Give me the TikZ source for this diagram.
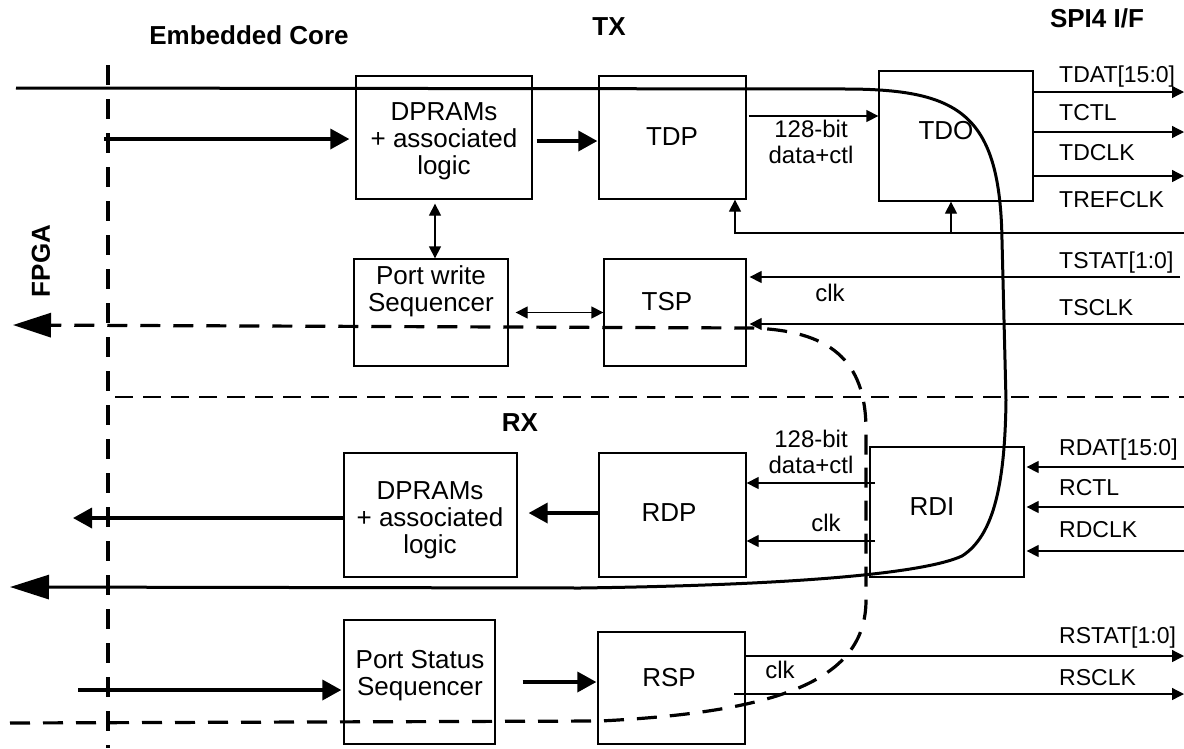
\documentclass[tikz,border=0pt]{standalone}
\usepackage{fontspec}
\setmainfont{Liberation Sans}
\usetikzlibrary{arrows.meta}
\newcommand\myfs{\fontsize{26}{27}\selectfont}
\newcommand\mysm{\fontsize{24}{26}\selectfont}
\newcommand\mylb{\fontsize{23}{26}\selectfont}
\newcommand\myhd{\fontsize{26}{28}\selectfont\bfseries}
\begin{document}
\begin{tikzpicture}[x=1pt,y=-1pt,
  box/.style={draw, line width=1.3pt, inner sep=0pt},
  txt/.style={font=\myfs, align=center, inner sep=0pt},
  stxt/.style={font=\mysm, align=center, inner sep=0pt},
  lbl/.style={font=\mylb, anchor=base west, inner sep=0pt},
  hd/.style={font=\myhd, inner sep=0pt},
  tarrow/.style={line width=1.3pt, -{Triangle[length=12pt,width=12pt]}},
  tbi/.style={line width=1.3pt, {Triangle[length=12pt,width=12pt]}-{Triangle[length=12pt,width=12pt]}},
  thk/.style={line width=3.5pt, -{Triangle[length=19pt,width=20pt]}},
  bigline/.style={line width=3pt, -{Triangle[length=39pt,width=24pt]}},
  bigdash/.style={line width=3.2pt, dash pattern=on 20pt off 13pt, -{Triangle[length=38pt,width=24pt]}},
  vdash/.style={line width=3.2pt, dash pattern=on 20pt off 14pt},
  hdash/.style={line width=1.3pt, dash pattern=on 18pt off 10pt}
]
\useasboundingbox (0,0) rectangle (1184,748);

% headings
\node[hd] (hcore) at (249,35) {Embedded Core};
\node[hd] (htx) at (609,27) {TX};
\node[hd] (hspi) at (1097,18) {SPI4 I/F};
\node[hd] (hrx) at (520,423) {RX};
\node[hd, rotate=90] (hfpga) at (41,261) {FPGA};

% boundaries
\coordinate (vtop) at (108,65);
\coordinate (vbot) at (108,748);
\draw[vdash] (vtop) -- (vbot);
\coordinate (hl) at (115,397);
\coordinate (hr) at (1184,397);
\draw[hdash] (hl) -- (hr);

% boxes
\node[box, minimum width=176pt, minimum height=123pt] (dpt) at (444,137.5) {};
\node[txt] (dptt) at (444,141) {DPRAMs\\+ associated\\logic};
\node[box, minimum width=147pt, minimum height=123pt] (tdp) at (672.5,137.5) {};
\node[txt] (tdpt) at (672,137) {TDP};
\node[box, minimum width=154pt, minimum height=130pt] (tdo) at (956,136) {};
\node[txt] (tdot) at (946,131) {TDO};
\node[box, minimum width=154pt, minimum height=107pt] (pws) at (431,312.5) {};
\node[txt] (pwst) at (431,291) {Port write\\Sequencer};
\node[box, minimum width=142pt, minimum height=107pt] (tsp) at (675,312.5) {};
\node[txt] (tspt) at (667,302) {TSP};

\node[box, minimum width=173pt, minimum height=124pt] (rdpr) at (430.5,515) {};
\node[txt] (rdprt) at (430,520) {DPRAMs\\+ associated\\logic};
\node[box, minimum width=147pt, minimum height=124pt] (rdp) at (672.5,515) {};
\node[txt] (rdpt) at (669,513) {RDP};
\node[box, minimum width=154pt, minimum height=130pt] (rdi) at (947,512) {};
\node[txt] (rdit) at (932,507) {RDI};
\node[box, minimum width=151pt, minimum height=124pt] (pss) at (419.5,682) {};
\node[txt] (psst) at (420,676) {Port Status\\Sequencer};
\node[box, minimum width=147pt, minimum height=112pt] (rsp) at (671.5,688) {};
\node[txt] (rspt) at (669,678) {RSP};

% small labels
\node[stxt] (l128a) at (811,142) {128-bit\\data+ctl};
\node[stxt] (lclka) at (830,293) {clk};
\node[stxt] (l128b) at (811,452) {128-bit\\data+ctl};
\node[stxt] (lclkb) at (826,523) {clk};
\node[stxt] (lclkc) at (780,670) {clk};

\node[lbl] (ltdat) at (1059,82) {TDAT[15:0]};
\node[lbl] (ltctl) at (1059,120) {TCTL};
\node[lbl] (ltdclk) at (1059,160) {TDCLK};
\node[lbl] (ltref) at (1059,207) {TREFCLK};
\node[lbl] (ltstat) at (1059,268) {TSTAT[1:0]};
\node[lbl] (ltsclk) at (1059,315) {TSCLK};
\node[lbl] (lrdat) at (1059,455) {RDAT[15:0]};
\node[lbl] (lrctl) at (1059,495) {RCTL};
\node[lbl] (lrdclk) at (1059,537) {RDCLK};
\node[lbl] (lrstat) at (1059,643) {RSTAT[1:0]};
\node[lbl] (lrsclk) at (1059,685) {RSCLK};

% end coordinates
\coordinate (tdatE) at (1184,92);
\coordinate (tctlE) at (1184,132);
\coordinate (tdclkE) at (1184,176);
\coordinate (trefE) at (1184,233);
\coordinate (trefL) at (735,233);
\coordinate (trefB) at (951,233);
\coordinate (tstatE) at (1180,277);
\coordinate (tsclkE) at (1184,324);
\coordinate (rdatE) at (1184,467);
\coordinate (rctlE) at (1184,507);
\coordinate (rdclkE) at (1184,551);
\coordinate (rstatE) at (1184,656);
\coordinate (rsclkE) at (1184,694);
\coordinate (rsclkS) at (734,694);
\coordinate (r128) at (875,483);
\coordinate (rclk) at (875,541);
\coordinate (t128) at (0,116);
\coordinate (b1) at (435,0);
\coordinate (txin) at (104,139);
\coordinate (a1) at (0,141);
\coordinate (a2) at (0,513);
\coordinate (rxout) at (73,518);
\coordinate (stin) at (78,690);
\coordinate (a3) at (0,682);

% thin connectors
\draw[tarrow, shorten <=2pt] (tdp.east |- t128) -- (tdo.west |- t128);
\draw[tarrow] (tdo.east |- tdatE) -- (tdatE);
\draw[tarrow] (tdo.east |- tctlE) -- (tctlE);
\draw[tarrow] (tdo.east |- tdclkE) -- (tdclkE);
\draw[tarrow] (trefE) -- (trefL) -- (trefL |- tdp.south);
\draw[tarrow] (trefB) -- (trefB |- tdo.south);
\draw[tarrow, shorten >=3pt] (tstatE) -- (tsp.east |- tstatE);
\draw[tarrow, shorten >=3pt] (tsclkE) -- (tsp.east |- tsclkE);
\draw[tbi, shorten >=4pt] (pws.north -| b1) -- (dpt.south -| b1);
\draw[tbi, shorten <=7pt] (pws.east) -- (tsp.west);
\draw[tarrow] (r128) -- (rdp.east |- r128);
\draw[tarrow] (rclk) -- (rdp.east |- rclk);
\draw[tarrow, shorten >=2pt] (rdatE) -- (rdi.east |- rdatE);
\draw[tarrow, shorten >=2pt] (rctlE) -- (rdi.east |- rctlE);
\draw[tarrow, shorten >=2pt] (rdclkE) -- (rdi.east |- rdclkE);
\draw[tarrow] (rsp.east |- rstatE) -- (rstatE);
\draw[tarrow] (rsclkS) -- (rsclkE);

% thick connectors
\draw[thk, shorten >=6pt] (txin) -- (dpt.west |- txin);
\draw[thk, shorten <=4pt, shorten >=1pt] (dpt.east |- a1) -- (tdp.west |- a1);
\draw[thk, shorten >=11pt] (rdp.west |- a2) -- (rdpr.east |- a2);
\draw[thk] (rdpr.west |- rxout) -- (rxout);
\draw[thk, shorten >=2pt] (stin) -- (pss.west |- stin);
\draw[thk, shorten <=27pt, shorten >=1pt] (pss.east |- a3) -- (rsp.west |- a3);

% loop-back paths
\draw[bigline] (16,88) -- (850,89) .. controls (960,90) and (1000,115) .. (1002,240) -- (1006,400) .. controls (1005,480) and (995,535) .. (962,556) .. controls (925,573) and (800,585) .. (580,588) -- (10,587);
\draw[bigdash] (10,723) -- (600,721) .. controls (780,712) and (866,680) .. (866,600) -- (866,430) .. controls (866,360) and (830,330) .. (750,328) -- (13,325);
\end{tikzpicture}
\end{document}
